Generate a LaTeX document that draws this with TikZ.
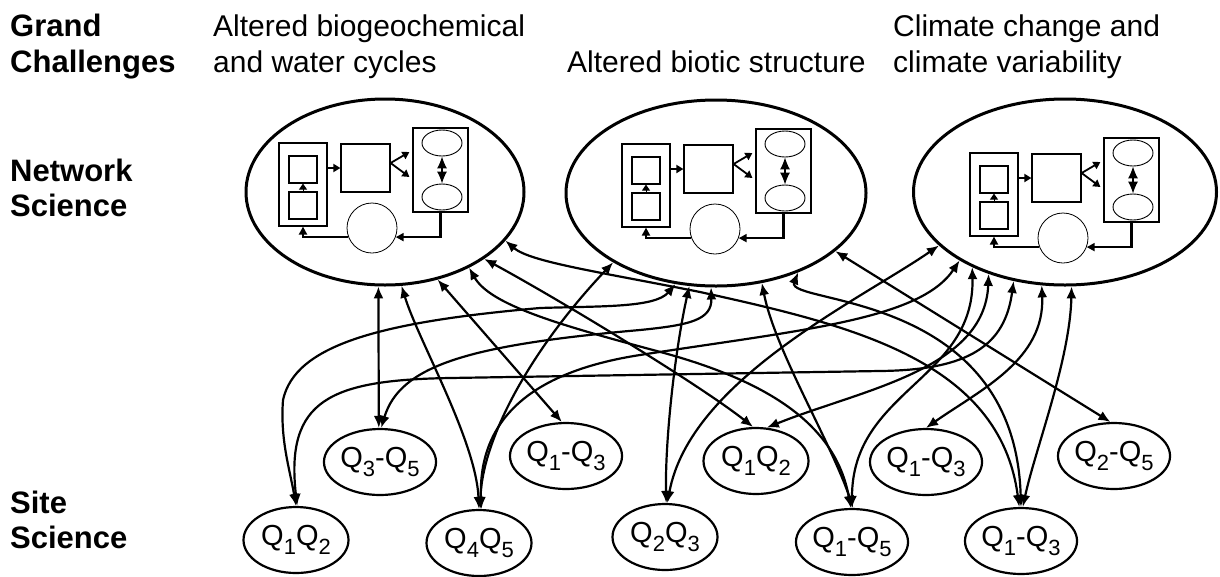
\documentclass[tikz,border=0pt]{standalone}
\usepackage{fontspec}
\setmainfont{Liberation Sans}
\usetikzlibrary{arrows.meta,shapes.geometric}

% lowered subscript digit for the question labels
\newcommand\qi[1]{\raisebox{-0.3em}{\fontsize{22}{22}\selectfont #1}}

% conceptual model drawn inside each network-science ellipse
\newcommand\drawmodel[3]{%
  \begin{scope}[shift={(#2,#3)}]
    \node[mbox, minimum width=48pt, minimum height=83pt] (#1outer) at (303,184.5) {};
    \node[mbox, minimum width=28pt, minimum height=27pt] (#1upper) at (303,169.5) {};
    \node[mbox, minimum width=28pt, minimum height=27pt] (#1lower) at (303,205.5) {};
    \node[mbox, minimum width=49pt, minimum height=48pt] (#1mid) at (365.5,168) {};
    \node[mbox, minimum width=55pt, minimum height=84pt] (#1right) at (440.5,170) {};
    \node[mell] (#1top) at (442,143) {};
    \node[mell] (#1bot) at (442,197) {};
    \node[mcirc] (#1pool) at (372,228) {};
    \draw[tiny] (#1lower.north) -- (#1upper.south);
    \draw[small] (#1outer.east |- #1mid.west) -- (#1mid.west);
    \draw[small] ([yshift=5pt]#1mid.east) -- ([xshift=-3pt,yshift=18pt]#1right.west);
    \draw[small] ([yshift=5pt]#1mid.east) -- ([xshift=-3pt,yshift=-7pt]#1right.west);
    \draw[swap] (#1top.south) -- (#1bot.north);
    \draw[feed] (#1right.south) |- (#1pool.-21);
    \draw[feed] (#1pool.201) -| (#1outer.south);
  \end{scope}}

\begin{document}
\begin{tikzpicture}[x=1pt,y=-1pt,
  big/.style={ellipse,draw,line width=3pt,minimum width=278pt,minimum height=186pt,inner sep=0pt},
  site/.style={ellipse,draw,line width=2.2pt,minimum width=105pt,minimum height=66pt,inner sep=0pt,
    font=\fontsize{29}{29}\selectfont},
  head/.style={font=\bfseries\fontsize{31}{35}\selectfont,anchor=base west,inner sep=0pt},
  theme/.style={font=\fontsize{30}{35}\selectfont,anchor=base west,inner sep=0pt},
  mbox/.style={draw,line width=1.2pt,inner sep=0pt},
  mell/.style={ellipse,draw,line width=0.9pt,minimum width=40pt,minimum height=26pt,inner sep=0pt},
  mcirc/.style={circle,draw,line width=0.8pt,minimum size=50pt,inner sep=0pt},
  tiny/.style={line width=1pt,-{Triangle[length=6pt,width=8pt]}},
  small/.style={line width=1.8pt,-{Triangle[length=7pt,width=8pt]}},
  swap/.style={line width=1.2pt,{Latex[length=12pt,width=10pt]}-{Latex[length=12pt,width=10pt]}},
  feed/.style={line width=2.2pt,-{Triangle[length=8pt,width=8pt]}},
  link/.style={line width=2.2pt,{Latex[length=12pt,width=10pt]}-{Latex[length=12pt,width=10pt]}},
]
\useasboundingbox (0,0) rectangle (1220,576);

% row labels
\node[head] (gc1) at (10,36) {Grand};
\node[head] (gc2) at (10,72) {Challenges};
\node[head] (ns1) at (10,181) {Network};
\node[head] (ns2) at (10,216) {Science};
\node[head] (ss1) at (10,513) {Site};
\node[head] (ss2) at (10,548) {Science};

% challenge titles
\node[theme] (t1a) at (213,36) {Altered biogeochemical};
\node[theme] (t1b) at (213,72) {and water cycles};
\node[theme] (t2) at (567,72) {Altered biotic structure};
\node[theme] (t3a) at (893,36) {Climate change and};
\node[theme] (t3b) at (893,72) {climate variability};

% network science ellipses
\node[big] (e1) at (385,192) {};
\node[big, minimum width=300pt] (e2) at (716,193) {};
\node[big, minimum width=303pt] (e3) at (1065,192) {};
\drawmodel{a}{0}{0}
\drawmodel{b}{343}{1}
\drawmodel{c}{691}{10}

% site science ellipses
\node[site] (s1) at (296,540) {Q\qi{1}Q\qi{2}};
\node[site] (s2) at (380,462) {Q\qi{3}-Q\qi{5}};
\node[site] (s3) at (479,543) {Q\qi{4}Q\qi{5}};
\node[site] (s4) at (566,456) {Q\qi{1}-Q\qi{3}};
\node[site] (s5) at (665,537) {Q\qi{2}Q\qi{3}};
\node[site] (s6) at (756,461) {Q\qi{1}Q\qi{2}};
\node[site] (s7) at (852,542) {Q\qi{1}-Q\qi{5}};
\node[site] (s8) at (926,462) {Q\qi{1}-Q\qi{3}};
\node[site] (s9) at (1021,541) {Q\qi{1}-Q\qi{3}};
\node[site] (s10) at (1114,456) {Q\qi{2}-Q\qi{5}};

% links from the first challenge
\draw[link] (e1.-94) -- (s2.92);
\draw[link] (e1.-80) .. controls (418,340) and (476,440) .. (s3.90);
\draw[link] (e1.-59) -- (s4.97);
\draw[link] (e1.-42) .. controls (490,305) and (560,325) .. (653,350) .. controls (760,378) and (835,420) .. (s7.92);
\draw[link] (e1.-34) .. controls (560,300) and (700,385) .. (s6.95);
\draw[link] (e1.-22) .. controls (530,262) and (600,272) .. (700,292) .. controls (850,325) and (1000,360) .. (s9.93);

% links from the second challenge
\draw[link] (e2.-146) .. controls (530,350) and (482,440) .. (s3.88);
\draw[link] (e2.-114) .. controls (655,308) and (600,306) .. (540,308) .. controls (380,322) and (295,345) .. (283,400) .. controls (280,440) and (290,470) .. (s1.90);
\draw[link] (e2.-106) .. controls (675,350) and (665,440) .. (s5.88);
\draw[link] (e2.-93) .. controls (712,320) and (690,325) .. (640,330) .. controls (470,345) and (400,365) .. (s2.88);
\draw[link] (e2.-63) .. controls (775,350) and (830,440) .. (s7.88);
\draw[link] (e2.-44) .. controls (785,305) and (1015,290) .. (s9.90);
\draw[link] (e2.-26) -- (s10.96);

% links from the third challenge
\draw[link] (e3.-157) .. controls (860,300) and (690,380) .. (s5.86);
\draw[link] (e3.-147) .. controls (920,320) and (800,330) .. (640,355) .. controls (530,372) and (478,420) .. (s3.86);
\draw[link] (e3.-141) .. controls (975,380) and (852,390) .. (s7.90);
\draw[link] (e3.-133) .. controls (985,370) and (860,390) .. (s6.72);
\draw[link] (e3.-120) .. controls (1005,345) and (970,370) .. (880,371) -- (450,378) .. controls (330,380) and (285,400) .. (s1.88);
\draw[link] (e3.-104) .. controls (1045,360) and (980,390) .. (s8.90);
\draw[link] (e3.-86) .. controls (1070,360) and (1035,450) .. (s9.87);
\end{tikzpicture}
\end{document}
